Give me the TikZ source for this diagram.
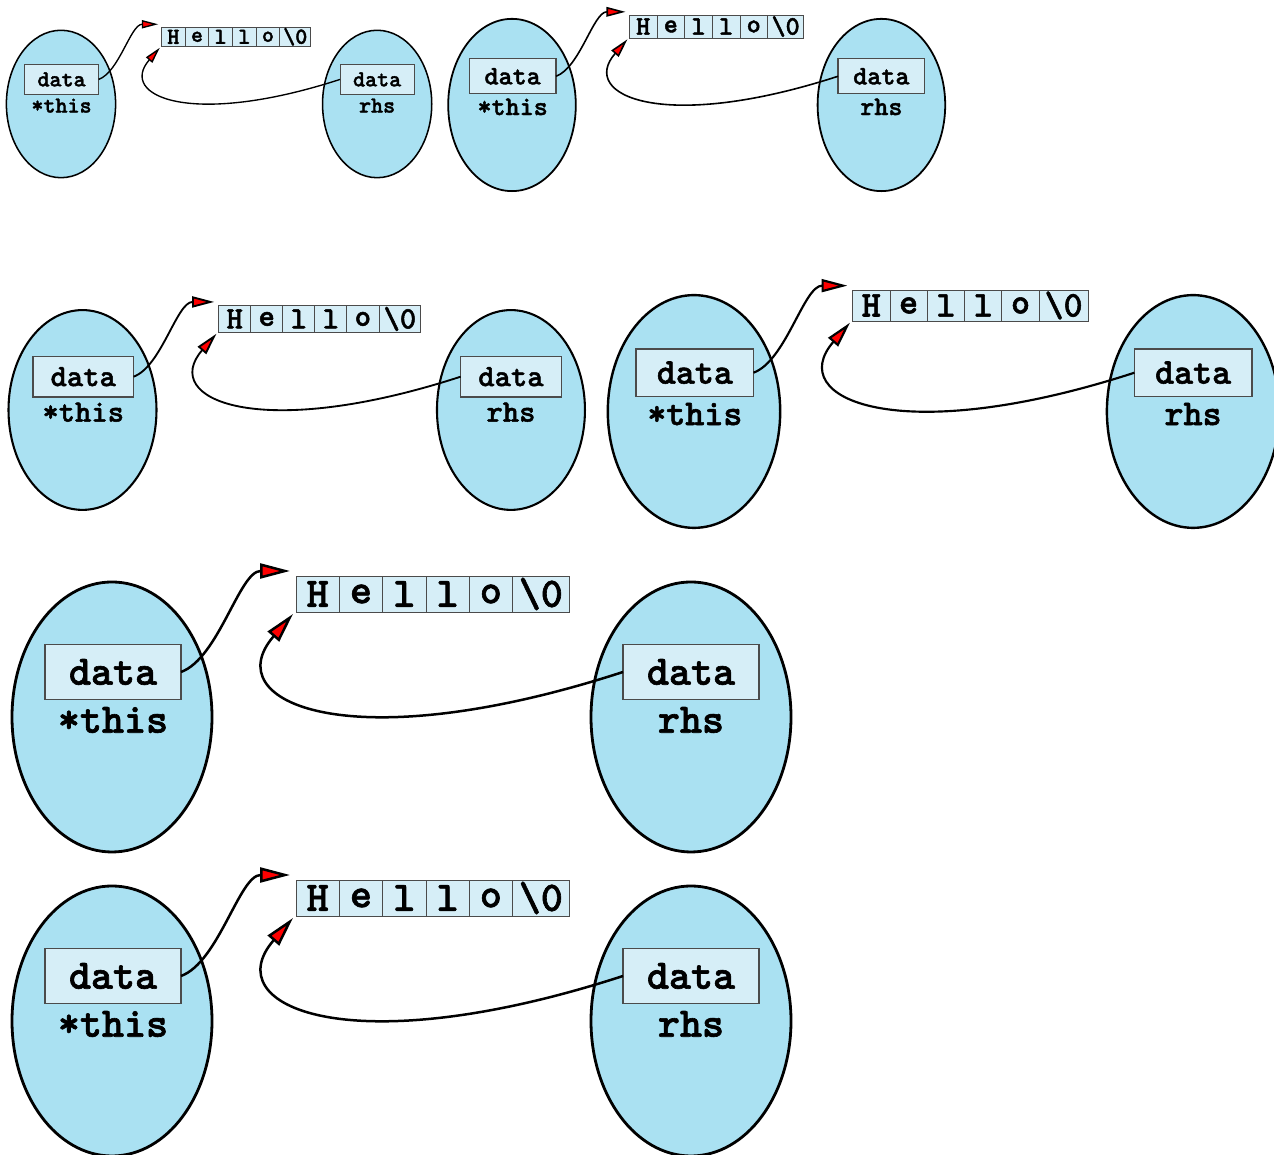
\documentclass[tikz,border=0pt]{standalone}
\usepackage{fontspec}
\newfontfamily\codefont{lmmonolt10-bold.otf}[FakeBold=1.5]
\usetikzlibrary{positioning}
\usetikzlibrary{shapes.geometric}
\usetikzlibrary{arrows.meta}
\usetikzlibrary{calc}
\definecolor{blob}{RGB}{170,225,242}
\definecolor{cellblue}{RGB}{214,238,247}
\definecolor{rim}{RGB}{75,75,75}

\begin{document}
\begin{tikzpicture}[x=0.5pt,y=0.5pt]
\tikzset{every node/.style={font=\fontsize{21}{25}\codefont}}
\tikzset{object/.style={ellipse,draw=black,fill=blob,minimum width=100pt,minimum height=135pt,inner sep=0pt}}
\tikzset{field/.style={draw=rim,fill=cellblue,minimum width=68pt,minimum height=27.5pt,inner sep=0pt,outer sep=0pt}}
\tikzset{tag/.style={inner sep=0pt}}
\tikzset{cell/.style={draw=rim,fill=cellblue,minimum width=21.65pt,minimum height=18pt,inner sep=0pt,outer sep=0pt}}
\tikzset{ptr/.style={-{Triangle[length=15pt,width=7.5pt,scale=#1,fill=red]}}}
\useasboundingbox (0,0) rectangle (1274,1155);
\clip (0,0) rectangle (1274,1155);
\foreach \n/\x/\y/\s in {1/61/1051/0.546, 2/512/1050/0.638, 3/82.5/745/0.74, 4/694/743.5/0.862, 5/112/438/1, 6/112/134/1}{
  \begin{scope}[shift={(\x,\y)},scale=\s,transform shape]
    \node[object,line width=\s*1.4pt] (this\n) at (0,0) {};
    \node[object,line width=\s*1.4pt] (rhs\n) at (579,0) {};
    \node[field,line width=\s*0.9pt] (d\n-this) at (1,45) {data};
    \node[field,line width=\s*0.9pt] (d\n-rhs) at (579,45) {data};
    \node[tag] (t\n-this) at (1,-3) {*this};
    \node[tag] (t\n-rhs) at (579,-3) {rhs};
    \node[cell,anchor=north west] (c\n-1) at (184,141) {H};
    \node[cell,right=0pt of c\n-1] (c\n-2) {e};
    \node[cell,right=0pt of c\n-2] (c\n-3) {l};
    \node[cell,right=0pt of c\n-3] (c\n-4) {l};
    \node[cell,right=0pt of c\n-4] (c\n-5) {o};
    \node[cell,minimum width=28.35pt,right=0pt of c\n-5] (c\n-6) {\textbackslash 0};
    \draw[ptr=\s,line width=\s*1.25pt] (d\n-this.east) to[out=20,in=180,out looseness=0.69,in looseness=0.87] ($(c\n-1.north west)+(-6,5)$);
    \draw[ptr=\s,line width=\s*1.25pt] (d\n-rhs.west) to[out=198,in=229,out looseness=2.2,in looseness=0.9] ($(c\n-1.south west)+(-3,-2)$);
  \end{scope}
}
\end{tikzpicture}
\end{document}
